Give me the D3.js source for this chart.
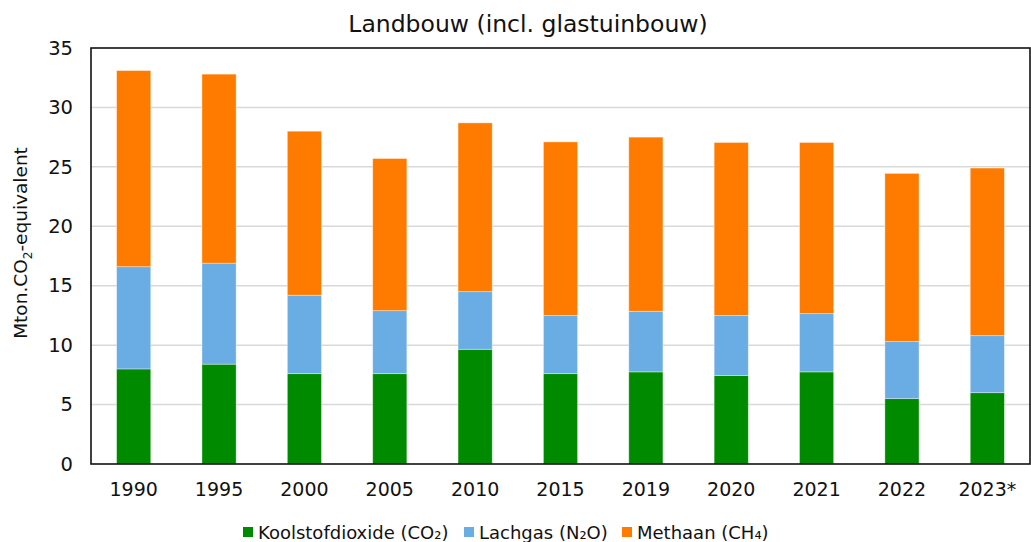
<!DOCTYPE html>
<html>
<head>
<meta charset="utf-8">
<script src="https://cdn.jsdelivr.net/npm/d3@7"></script>
<style>
  html, body { margin: 0; padding: 0; background: #fff; }
  svg { display: block; font-family: "DejaVu Sans", Verdana, sans-serif; }
</style>
</head>
<body>
<svg id="chart" width="1031" height="542"></svg>
<script>
// Emissions per greenhouse gas, Mton CO2-equivalent
const years = ["1990", "1995", "2000", "2005", "2010", "2015", "2019", "2020", "2021", "2022", "2023*"];
const co2 = [8.0, 8.4, 7.6, 7.6, 9.65, 7.6, 7.75, 7.45, 7.75, 5.5, 6.0];
const n2o = [8.6, 8.5, 6.6, 5.3, 4.85, 4.9, 5.1, 5.05, 4.9, 4.8, 4.8];
const ch4 = [16.5, 15.9, 13.8, 12.8, 14.2, 14.6, 14.65, 14.55, 14.4, 14.15, 14.1];
const yTicks = [0, 5, 10, 15, 20, 25, 30, 35];

const seriesKeys = ["co2", "n2o", "ch4"];
const seriesNames = { co2: "Koolstofdioxide (CO₂)", n2o: "Lachgas (N₂O)", ch4: "Methaan (CH₄)" };
const colors = { co2: "#008a00", n2o: "#6aade4", ch4: "#ff7b00" };

const rows = years.map((y, i) => ({ year: y, co2: co2[i], n2o: n2o[i], ch4: ch4[i] }));
const stacked = d3.stack().keys(seriesKeys)(rows);

const svg = d3.select("#chart");
const margin = { left: 91, right: 1, top: 48, bottom: 78 };
const W = 1031, H = 542;
const plotW = W - margin.left - margin.right;
const plotH = H - margin.top - margin.bottom;

const x = d3.scaleBand().domain(years).range([0, plotW]).paddingInner(0.6).paddingOuter(0.3);
const y = d3.scaleLinear().domain([0, 35]).range([plotH, 0]);

const g = svg.append("g").attr("transform", `translate(${margin.left},${margin.top})`);

// gridlines
g.append("g").selectAll("line").data(yTicks.filter(t => t > 0 && t < 35)).join("line")
  .attr("x1", 0).attr("x2", plotW)
  .attr("y1", d => y(d)).attr("y2", d => y(d))
  .attr("stroke", "#d9d9d9").attr("stroke-width", 1.5);

// stacked bars
g.append("g").selectAll("g").data(stacked).join("g")
  .attr("fill", d => colors[d.key])
  .selectAll("rect").data(d => d).join("rect")
  .attr("x", d => x(d.data.year))
  .attr("width", x.bandwidth())
  .attr("y", d => y(d[1]))
  .attr("height", d => y(d[0]) - y(d[1]))
  .attr("stroke", "rgba(255,255,255,0.45)")
  .attr("stroke-width", 0.8);

// plot frame
g.append("rect").attr("x", 0).attr("y", 0).attr("width", plotW).attr("height", plotH)
  .attr("fill", "none").attr("stroke", "#111").attr("stroke-width", 1.6);

// y axis labels
const yAxis = d3.axisLeft(y).tickValues(yTicks).tickSize(0).tickPadding(18);
const ya = g.append("g").call(yAxis);
ya.select(".domain").remove();
ya.selectAll("text").attr("font-size", 19.5).attr("fill", "#111").attr("font-family", "DejaVu Sans, Verdana, sans-serif");

// x axis labels
const xAxis = d3.axisBottom(x).tickSize(0).tickPadding(19);
const xa = g.append("g").attr("transform", `translate(0,${plotH})`).call(xAxis);
xa.select(".domain").remove();
xa.selectAll("text").attr("font-size", 19).attr("fill", "#111").attr("font-family", "DejaVu Sans, Verdana, sans-serif");

// title
svg.append("text").attr("x", 528).attr("y", 32).attr("text-anchor", "middle")
  .attr("font-size", 23.5).attr("fill", "#111").text("Landbouw (incl. glastuinbouw)");

// y axis title with subscript
const yt = svg.append("text")
  .attr("transform", `translate(27,243) rotate(-90)`)
  .attr("text-anchor", "middle").attr("font-size", 18.5).attr("fill", "#111");
yt.append("tspan").text("Mton.CO");
yt.append("tspan").attr("font-size", 12).attr("dy", 5).text("2");
yt.append("tspan").attr("dy", -5).text("-equivalent");

// legend
const legendX = [243, 464, 622];
const lg = svg.append("g").attr("transform", "translate(0,532)");
seriesKeys.forEach((k, i) => {
  const item = lg.append("g").attr("transform", `translate(${legendX[i]},0)`);
  item.append("rect").attr("x", 0).attr("y", -5).attr("width", 10).attr("height", 10).attr("fill", colors[k]);
  item.append("text").attr("x", 15).attr("y", 7).attr("font-size", 18).attr("fill", "#111").text(seriesNames[k]);
});
</script>
</body>
</html>
